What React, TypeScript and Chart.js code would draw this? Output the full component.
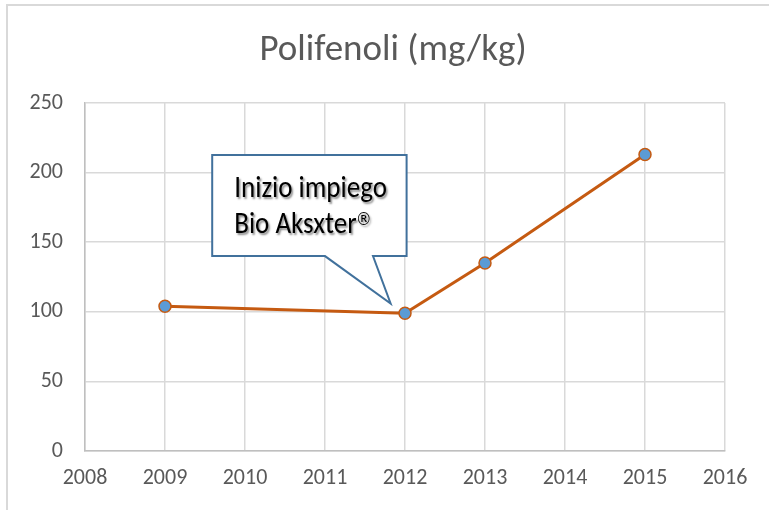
import React, { useEffect, useRef } from "react";
import { Chart, registerables } from "chart.js";

Chart.register(...registerables);

const chartTitle = "Polifenoli (mg/kg)";
const years = [2009, 2012, 2013, 2015];
const polifenoli = [104, 99, 135, 213];
const calloutLines = ["Inizio impiego", "Bio Aksxter"];
const calloutMark = "®";

const FONT = "Carlito, Lato, 'Open Sans', sans-serif";

const framePlugin = {
  id: "frame",
  beforeDraw(chart: any) {
    const { ctx, width, height } = chart;
    ctx.save();
    ctx.fillStyle = "#ffffff";
    ctx.fillRect(0, 0, width, height);
    ctx.strokeStyle = "#d9d9d9";
    ctx.lineWidth = 2;
    ctx.beginPath();
    ctx.moveTo(width, 5);
    ctx.lineTo(7, 5);
    ctx.lineTo(7, height);
    ctx.stroke();
    ctx.fillStyle = "#595959";
    ctx.font = `300 37px ${FONT}`;
    ctx.textAlign = "center";
    ctx.textBaseline = "middle";
    ctx.fillText(chartTitle, 393, 51);
    ctx.restore();
  },
};

const calloutPlugin = {
  id: "callout",
  afterDatasetsDraw(chart: any) {
    const { ctx } = chart;
    const xs = chart.scales.x;
    const ys = chart.scales.y;
    const l = xs.getPixelForValue(2009.59);
    const r = xs.getPixelForValue(2012.02);
    const t = ys.getPixelForValue(212.6);
    const b = ys.getPixelForValue(140);
    const pl = xs.getPixelForValue(2011.0);
    const pr = xs.getPixelForValue(2011.6);
    const tx = xs.getPixelForValue(2011.82);
    const ty = ys.getPixelForValue(106);
    ctx.save();
    ctx.beginPath();
    ctx.moveTo(l, t);
    ctx.lineTo(r, t);
    ctx.lineTo(r, b);
    ctx.lineTo(pr, b);
    ctx.lineTo(tx, ty);
    ctx.lineTo(pl, b);
    ctx.lineTo(l, b);
    ctx.closePath();
    ctx.fillStyle = "#ffffff";
    ctx.fill();
    ctx.strokeStyle = "#41719c";
    ctx.lineWidth = 2;
    ctx.lineJoin = "miter";
    ctx.stroke();

    const x0 = l + 22;
    const drawStretched = (text: string, x: number, y: number, font: string) => {
      ctx.save();
      ctx.translate(x, y);
      ctx.scale(1, 1.1);
      ctx.font = font;
      ctx.fillText(text, 0, 0);
      ctx.restore();
    };
    ctx.fillStyle = "#000000";
    ctx.textAlign = "left";
    ctx.textBaseline = "alphabetic";
    ctx.shadowColor = "rgba(0,0,0,0.45)";
    ctx.shadowBlur = 2;
    ctx.shadowOffsetX = 1.5;
    ctx.shadowOffsetY = 1.5;
    const mainFont = `27px ${FONT}`;
    drawStretched(calloutLines[0], x0, t + 42, mainFont);
    drawStretched(calloutLines[1], x0, t + 78, mainFont);
    ctx.font = mainFont;
    const w = ctx.measureText(calloutLines[1]).width;
    drawStretched(calloutMark, x0 + w - 1, t + 70, "16px 'DejaVu Sans', sans-serif");
    ctx.restore();
  },
};

export default function App() {
  const ref = useRef<HTMLCanvasElement>(null);
  useEffect(() => {
    document.body.style.margin = "0";
    const chart = new Chart(ref.current!, {
      type: "scatter",
      data: {
        datasets: [
          {
            data: years.map((yr, i) => ({ x: yr, y: polifenoli[i] })),
            showLine: true,
            borderColor: "#c55a11",
            borderWidth: 3,
            pointBackgroundColor: "#5b9bd5",
            pointBorderColor: "#c55a11",
            pointBorderWidth: 1.5,
            pointRadius: 6,
          },
        ],
      },
      options: {
        responsive: false,
        animation: false,
        layout: { padding: { top: 103, left: 7, right: 44, bottom: 0 } },
        plugins: { legend: { display: false }, title: { display: false }, tooltip: { enabled: false } },
        scales: {
          x: {
            type: "linear",
            min: 2008,
            max: 2016,
            ticks: {
              stepSize: 1,
              color: "#595959",
              font: { family: FONT, size: 22 },
              padding: 14,
              callback: (v: any) => String(v),
            },
            grid: { color: "#d9d9d9", lineWidth: 1.5, drawTicks: false },
            border: { color: "#bfbfbf", width: 1.5 },
            afterFit: (s: any) => {
              s.height = 59;
            },
          },
          y: {
            min: 0,
            max: 250,
            ticks: {
              stepSize: 50,
              color: "#595959",
              font: { family: FONT, size: 22 },
              padding: 22,
            },
            grid: { color: "#d9d9d9", lineWidth: 1.5, drawTicks: false },
            border: { color: "#bfbfbf", width: 1.5 },
            afterFit: (s: any) => {
              s.width = 78;
            },
          },
        },
      },
      plugins: [framePlugin, calloutPlugin],
    });
    return () => chart.destroy();
  }, []);
  return <canvas ref={ref} width={769} height={510} style={{ display: "block" }} />;
}
